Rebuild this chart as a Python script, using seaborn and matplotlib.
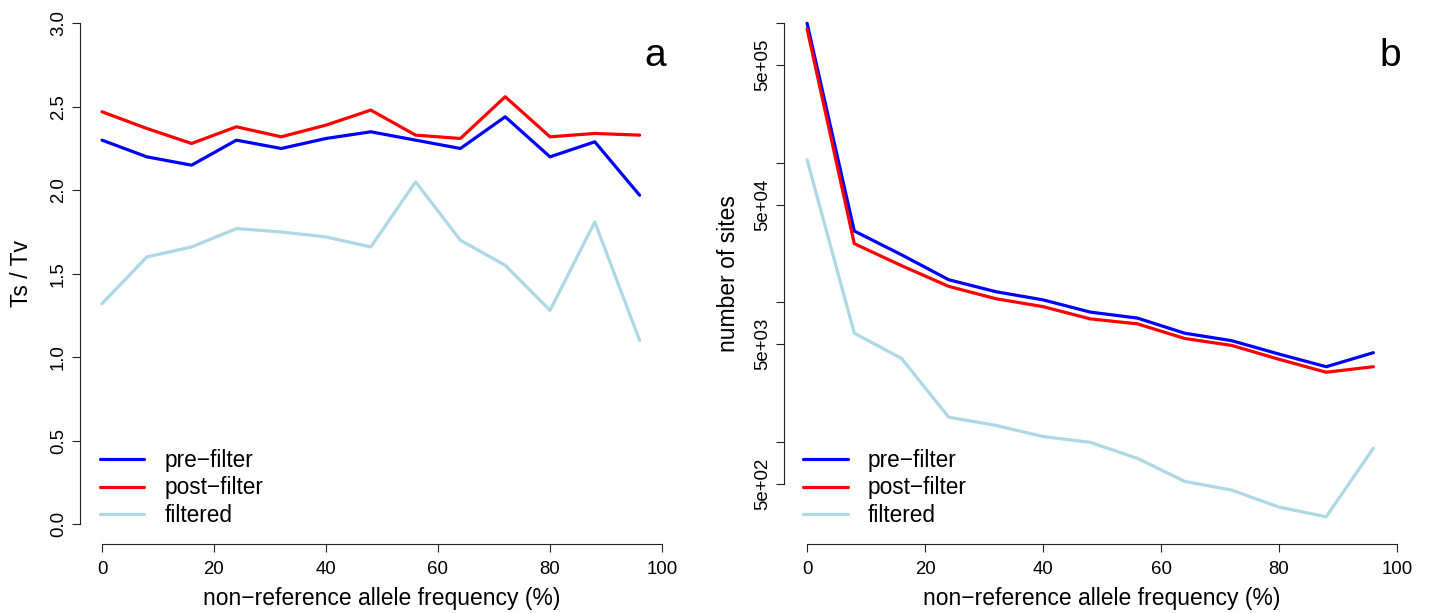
import numpy as np
import pandas as pd
import matplotlib
matplotlib.use("Agg")
import matplotlib.pyplot as plt
from matplotlib.ticker import NullLocator
import seaborn as sns

# Non-reference allele frequency bins (%)
freq = [0, 8, 16, 24, 32, 40, 48, 56, 64, 72, 80, 88, 96]

# Transition / transversion ratio per bin
tstv_pre = [2.30, 2.20, 2.15, 2.30, 2.25, 2.31, 2.35, 2.30, 2.25, 2.44, 2.20, 2.29, 1.97]
tstv_post = [2.47, 2.37, 2.28, 2.38, 2.32, 2.39, 2.48, 2.33, 2.31, 2.56, 2.32, 2.34, 2.33]
tstv_filtered = [1.32, 1.60, 1.66, 1.77, 1.75, 1.72, 1.66, 2.05, 1.70, 1.55, 1.28, 1.81, 1.10]

# Number of sites per bin
sites_pre = [1.0e6, 32400, 21900, 14500, 11900, 10400, 8500, 7700, 6000, 5300, 4250, 3450, 4350]
sites_post = [910000, 26300, 18300, 13000, 10600, 9300, 7600, 7000, 5500, 4900, 3900, 3150, 3450]
sites_filtered = [105000, 6000, 3960, 1500, 1310, 1090, 990, 760, 520, 450, 340, 290, 900]

series_names = ["pre\u2212filter", "post\u2212filter", "filtered"]
series_colors = ["#0000FF", "#FF0000", "#ADD8E6"]

tstv_ticks = [0.0, 0.5, 1.0, 1.5, 2.0, 2.5, 3.0]
tstv_ticklabels = ["0.0", "0.5", "1.0", "1.5", "2.0", "2.5", "3.0"]
sites_ticks = [5e2, 1e3, 5e3, 1e4, 5e4, 1e5, 5e5, 1e6]
sites_ticklabels = ["5e+02", "", "5e+03", "", "5e+04", "", "5e+05", ""]
x_ticks = [0, 20, 40, 60, 80, 100]


def long_frame(values):
    rows = []
    for name, vals in zip(series_names, values):
        for f, v in zip(freq, vals):
            rows.append({"freq": f, "value": v, "series": name})
    return pd.DataFrame(rows)


df_tstv = long_frame([tstv_pre, tstv_post, tstv_filtered])
df_sites = long_frame([sites_pre, sites_post, sites_filtered])

sns.set_style("ticks")
plt.rcParams["font.family"] = ["Liberation Sans", "DejaVu Sans"]
plt.rcParams["axes.linewidth"] = 0.8
for key in ("text.color", "axes.labelcolor", "xtick.color", "ytick.color",
            "xtick.labelcolor", "ytick.labelcolor"):
    plt.rcParams[key] = "black"

W, H = 1430, 613
fig = plt.figure(figsize=(W / 100, H / 100), dpi=100)


def px_axes(left, right, top, bottom):
    return fig.add_axes([left / W, 1 - bottom / H, (right - left) / W, (bottom - top) / H])


ax_a = px_axes(79.6, 684.4, 3.3, 544)
ax_b = px_axes(783.5, 1420.6, 3.3, 544)

palette = dict(zip(series_names, series_colors))
LW = 2.3
TICK_FS = 13.4
LABEL_FS = 16.5
LEG_FS = 16.3

for ax, df in ((ax_a, df_tstv), (ax_b, df_sites)):
    sns.lineplot(data=df, x="freq", y="value", hue="series", palette=palette,
                 hue_order=series_names, estimator=None, linewidth=LW, ax=ax,
                 legend=True)

# panel a axes
ax_a.set_xlim(-4, 104)
ax_a.set_ylim(-0.12, 3.12)
ax_a.set_yticks(tstv_ticks, tstv_ticklabels)
ax_a.set_ylabel("Ts / Tv", fontsize=LABEL_FS)

# panel b axes (log scale)
ax_b.set_yscale("log")
ax_b.set_xlim(-4, 104)
ax_b.set_ylim(10 ** 2.267, 10 ** 6.143)
ax_b.set_yticks(sites_ticks, sites_ticklabels)
ax_b.yaxis.set_minor_locator(NullLocator())
ax_b.set_ylabel("number of sites", fontsize=LABEL_FS)

for ax, lo, hi, ylab_x, leg_x in ((ax_a, 0, 3, -0.077, 0.0337),
                                  (ax_b, 5e2, 1e6, -0.0683, 0.031)):
    ax.set_xticks(x_ticks, [str(t) for t in x_ticks])
    ax.set_xlabel("non\u2212reference allele frequency (%)", fontsize=LABEL_FS)
    for side in ("top", "right"):
        ax.spines[side].set_visible(False)
    ax.spines["left"].set_bounds(lo, hi)
    ax.spines["bottom"].set_bounds(0, 100)
    ax.spines["left"].set_color("#222222")
    ax.spines["bottom"].set_color("#222222")
    ax.tick_params(axis="both", direction="out", length=5.8, width=0.8,
                   color="#222222", labelsize=TICK_FS, labelcolor="black")
    ax.tick_params(axis="x", pad=6.8)
    ax.tick_params(axis="y", pad=3.3, labelrotation=90)
    for lab in ax.get_yticklabels():
        lab.set_verticalalignment("center")
    ax.yaxis.set_label_coords(ylab_x, 0.5)
    ax.xaxis.set_label_coords(0.5, -0.08)
    ax.grid(False)

    handles, labels = ax.get_legend_handles_labels()
    leg = ax.legend(handles, labels, loc="center left",
                    bbox_to_anchor=(leg_x, 0.1036), frameon=False,
                    fontsize=LEG_FS, handlelength=1.96, handletextpad=0.88,
                    labelspacing=0.21, borderpad=0, borderaxespad=0)
    for line in leg.get_lines():
        line.set_linewidth(LW)

ax_a.text(0.9514, 0.8846, "a", transform=ax_a.transAxes, ha="center",
          va="baseline", fontsize=28)
ax_b.text(0.9528, 0.8846, "b", transform=ax_b.transAxes, ha="center",
          va="baseline", fontsize=28)

fig.savefig("out.png", dpi=100)
